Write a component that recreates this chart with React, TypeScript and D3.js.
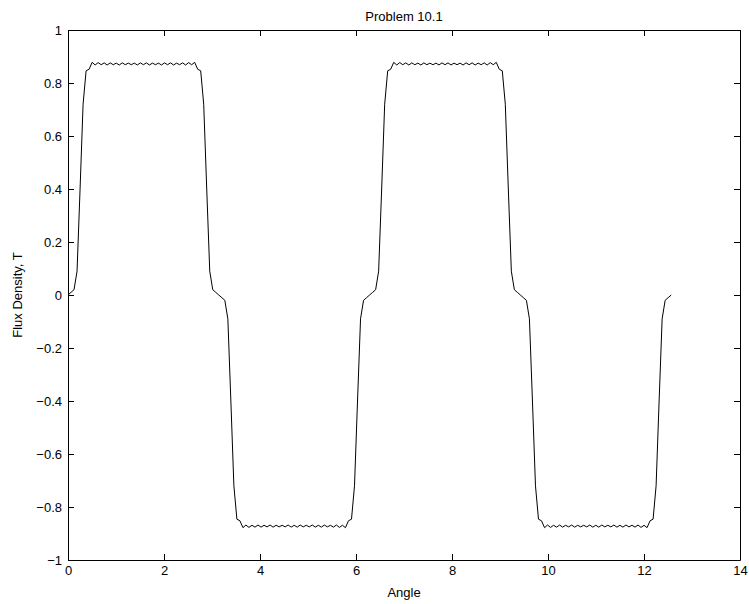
import React, { useEffect, useRef } from "react"
import * as d3 from "d3"

// flux density samples, one every pi/50 rad, from 0 to 4*pi
const fluxDensity = [
  0, 0.01, 0.02, 0.09, 0.40, 0.72, 0.846, 0.852, 0.878, 0.868,
  0.877, 0.869, 0.876, 0.868, 0.876, 0.869, 0.875, 0.868, 0.876, 0.869,
  0.875, 0.869, 0.875, 0.868, 0.876, 0.869, 0.876, 0.868, 0.875, 0.869,
  0.875, 0.868, 0.876, 0.869, 0.876, 0.868, 0.875, 0.869, 0.876, 0.868,
  0.877, 0.869, 0.878, 0.852, 0.846, 0.72, 0.40, 0.09, 0.02, 0.01,
  0, -0.01, -0.02, -0.09, -0.40, -0.72, -0.846, -0.852, -0.878, -0.868,
  -0.877, -0.869, -0.876, -0.868, -0.876, -0.869, -0.875, -0.868, -0.876, -0.869,
  -0.875, -0.869, -0.875, -0.868, -0.876, -0.869, -0.876, -0.868, -0.875, -0.869,
  -0.875, -0.868, -0.876, -0.869, -0.876, -0.868, -0.875, -0.869, -0.876, -0.868,
  -0.877, -0.869, -0.878, -0.852, -0.846, -0.72, -0.40, -0.09, -0.02, -0.01,
  0, 0.01, 0.02, 0.09, 0.40, 0.72, 0.846, 0.852, 0.878, 0.868,
  0.877, 0.869, 0.876, 0.868, 0.876, 0.869, 0.875, 0.868, 0.876, 0.869,
  0.875, 0.869, 0.875, 0.868, 0.876, 0.869, 0.876, 0.868, 0.875, 0.869,
  0.875, 0.868, 0.876, 0.869, 0.876, 0.868, 0.875, 0.869, 0.876, 0.868,
  0.877, 0.869, 0.878, 0.852, 0.846, 0.72, 0.40, 0.09, 0.02, 0.01,
  0, -0.01, -0.02, -0.09, -0.40, -0.72, -0.846, -0.852, -0.878, -0.868,
  -0.877, -0.869, -0.876, -0.868, -0.876, -0.869, -0.875, -0.868, -0.876, -0.869,
  -0.875, -0.869, -0.875, -0.868, -0.876, -0.869, -0.876, -0.868, -0.875, -0.869,
  -0.875, -0.868, -0.876, -0.869, -0.876, -0.868, -0.875, -0.869, -0.876, -0.868,
  -0.877, -0.869, -0.878, -0.852, -0.846, -0.72, -0.40, -0.09, -0.02, -0.01,
  0,
]
const angleStep = Math.PI / 50

const xTicks = [0, 2, 4, 6, 8, 10, 12, 14]
const yTicks = [-1, -0.8, -0.6, -0.4, -0.2, 0, 0.2, 0.4, 0.6, 0.8, 1]

const titleText = "Problem 10.1"
const xLabel = "Angle"
const yLabel = "Flux Density, T"

export default function App() {
  const ref = useRef<SVGSVGElement>(null)

  useEffect(() => {
    const svg = d3.select(ref.current)
    svg.selectAll("*").remove()

    const width = 749
    const height = 604
    const margin = { top: 30, right: 9, bottom: 44, left: 68 }
    const font = "'Liberation Sans', Arial, Helvetica, sans-serif"

    const x = d3.scaleLinear().domain([0, 14]).range([margin.left, width - margin.right])
    const y = d3.scaleLinear().domain([-1, 1]).range([height - margin.bottom, margin.top])

    const fmt = (d: number) => String(d).replace("-", "\u2212")

    const styleAxis = (g: any) => {
      g.selectAll(".domain").attr("stroke", "#000").attr("stroke-width", 1)
      g.selectAll(".tick line").attr("stroke", "#000")
      g.selectAll("text").attr("font-family", font).attr("font-size", 13).attr("fill", "#000")
    }

    svg.append("rect")
      .attr("x", 0).attr("y", 0).attr("width", width).attr("height", height)
      .attr("fill", "#fff")

    svg.append("g")
      .attr("transform", `translate(0,${y(-1)})`)
      .call(d3.axisBottom(x).tickValues(xTicks).tickSizeInner(-6).tickSizeOuter(0).tickPadding(6).tickFormat(fmt as any))
      .call(styleAxis)

    svg.append("g")
      .attr("transform", `translate(0,${y(1)})`)
      .call(d3.axisTop(x).tickValues(xTicks).tickSizeInner(-6).tickSizeOuter(0).tickFormat(() => ""))
      .call(styleAxis)

    svg.append("g")
      .attr("transform", `translate(${x(0)},0)`)
      .call(d3.axisLeft(y).tickValues(yTicks).tickSizeInner(-6).tickSizeOuter(0).tickPadding(6).tickFormat(fmt as any))
      .call(styleAxis)

    svg.append("g")
      .attr("transform", `translate(${x(14)},0)`)
      .call(d3.axisRight(y).tickValues(yTicks).tickSizeInner(-6).tickSizeOuter(0).tickFormat(() => ""))
      .call(styleAxis)

    const line = d3.line<number>()
      .x((d, i) => x(i * angleStep))
      .y(d => y(d))

    svg.append("path")
      .datum(fluxDensity)
      .attr("fill", "none")
      .attr("stroke", "#000")
      .attr("stroke-width", 1)
      .attr("d", line)

    svg.append("text")
      .attr("x", (x(0) + x(14)) / 2)
      .attr("y", 21)
      .attr("text-anchor", "middle")
      .attr("font-family", font)
      .attr("font-size", 13)
      .text(titleText)

    svg.append("text")
      .attr("x", (x(0) + x(14)) / 2)
      .attr("y", 597)
      .attr("text-anchor", "middle")
      .attr("font-family", font)
      .attr("font-size", 13)
      .text(xLabel)

    svg.append("text")
      .attr("transform", `translate(22,${y(0)}) rotate(-90)`)
      .attr("text-anchor", "middle")
      .attr("font-family", font)
      .attr("font-size", 13)
      .text(yLabel)
  }, [])

  return (
    <svg
      ref={ref}
      width={749}
      height={604}
      style={{ position: "absolute", left: 0, top: 0, display: "block" }}
    />
  )
}
